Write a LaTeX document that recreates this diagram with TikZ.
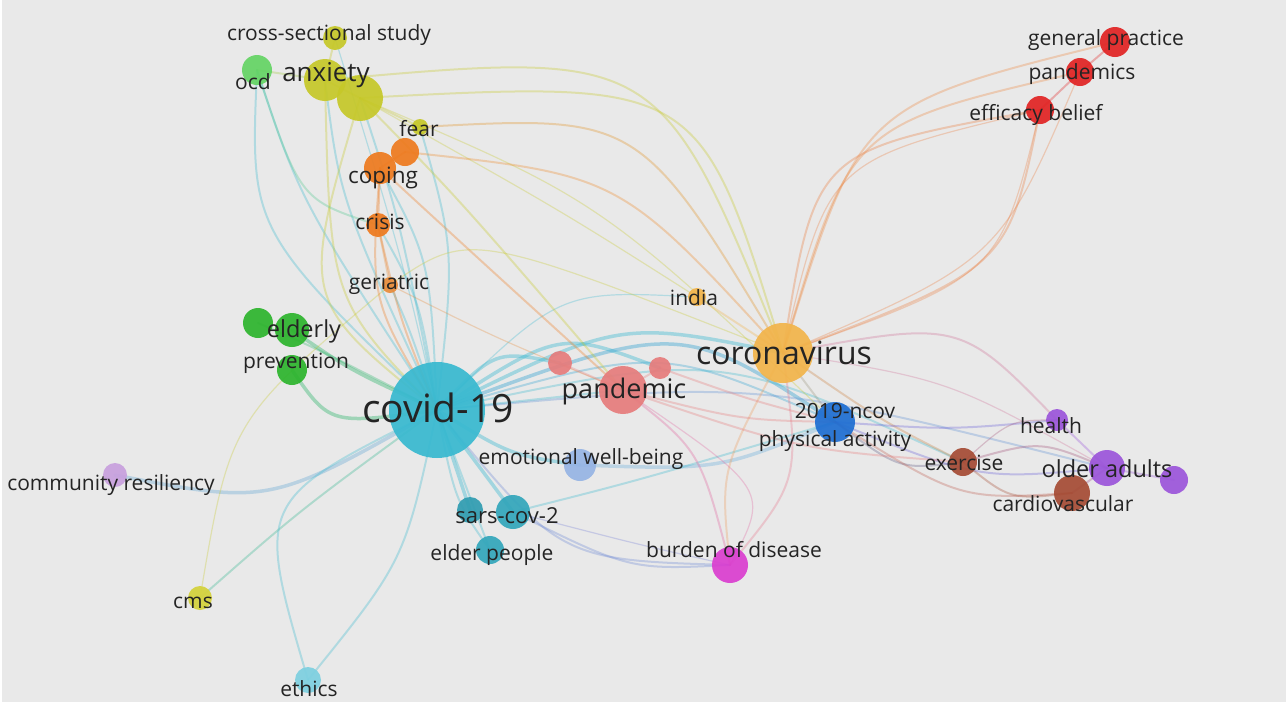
\documentclass[tikz,border=0pt]{standalone}
\usepackage{fontspec}
\setmainfont{Open Sans}
\definecolor{bgc}{RGB}{233,233,233}
\definecolor{labc}{RGB}{36,36,36}
\definecolor{cyanc}{RGB}{56,185,208}
\definecolor{orc}{RGB}{242,180,74}
\definecolor{pinkc}{RGB}{230,124,124}
\definecolor{anxc}{RGB}{198,200,40}
\definecolor{ocdc}{RGB}{100,212,100}
\definecolor{copc}{RGB}{238,122,30}
\definecolor{gerc}{RGB}{232,140,58}
\definecolor{eldc}{RGB}{45,180,45}
\definecolor{redc}{RGB}{225,35,35}
\definecolor{bluec}{RGB}{30,110,210}
\definecolor{purc}{RGB}{155,85,218}
\definecolor{brc}{RGB}{165,75,52}
\definecolor{emoc}{RGB}{150,180,228}
\definecolor{magc}{RGB}{218,62,208}
\definecolor{comc}{RGB}{200,160,222}
\definecolor{cmsc}{RGB}{212,210,58}
\definecolor{ethc}{RGB}{125,208,224}
\begin{document}
\begin{tikzpicture}[x=1pt,y=-1pt,
  kw/.style={circle, inner sep=0pt, minimum size=#1, fill opacity=0.92},
  lab/.style={text=labc, inner sep=0pt, anchor=center, font=\fontsize{21}{21}\selectfont},
  ed/.style={line width=2pt, draw opacity=0.32, line cap=round},
  edt/.style={line width=1.2pt, draw opacity=0.3, line cap=round},
  edk/.style={line width=3.5pt, draw opacity=0.4, line cap=round}]
\useasboundingbox (0,0) rectangle (1286,705);
\fill[white] (0,0) rectangle (1286,705);
\fill[bgc] (2,0) rectangle (1286,702);
% centres
\coordinate (cov) at (437,410);
\coordinate (cor) at (783,353);
\coordinate (pan) at (623,390);
\coordinate (pa) at (560,363);
\coordinate (pb) at (660,368);
\coordinate (anx) at (360,98);
\coordinate (anx2) at (325,80);
\coordinate (cross) at (335,38);
\coordinate (ocd) at (257,70);
\coordinate (fear) at (420,127);
\coordinate (cop1) at (405,152);
\coordinate (cop2) at (380,168);
\coordinate (cri) at (378,225);
\coordinate (ger) at (390,285);
\coordinate (eld1) at (258,323);
\coordinate (eld2) at (292,330);
\coordinate (prev) at (292,370);
\coordinate (ind) at (697,297);
\coordinate (gp) at (1115,42);
\coordinate (pds) at (1080,72);
\coordinate (eff) at (1040,110);
\coordinate (ncov) at (835,422);
\coordinate (hea) at (1057,420);
\coordinate (old1) at (1107,468);
\coordinate (old2) at (1174,480);
\coordinate (exe) at (963,462);
\coordinate (car) at (1072,493);
\coordinate (emo) at (580,465);
\coordinate (sar1) at (470,510);
\coordinate (sar2) at (513,512);
\coordinate (eldp) at (490,550);
\coordinate (bur) at (730,565);
\coordinate (com) at (115,475);
\coordinate (cms) at (200,598);
\coordinate (eth) at (308,680);
% edges from covid-19
\draw[ed,cyanc] (cov) .. controls (250,230) .. (ocd);
\draw[ed,cyanc] (cov) .. controls (300,200) .. (ocd);
\draw[ed,cyanc] (cov) .. controls (400,220) .. (anx);
\draw[ed,cyanc] (cov) .. controls (340,200) .. (anx2);
\draw[ed,cyanc] (cov) .. controls (430,260) .. (cop2);
\draw[ed,cyanc] (cov) .. controls (455,250) .. (fear);
\draw[ed,cyanc] (cov) .. controls (420,300) .. (cri);
\draw[ed,cyanc] (cov) .. controls (410,330) .. (ger);
\draw[edk,eldc!60!cyanc] (cov) .. controls (350,370) .. (eld2);
\draw[ed,eldc!60!cyanc] (cov) .. controls (320,350) .. (eld1);
\draw[edk,eldc!60!cyanc] (cov) .. controls (330,425) .. (prev);
\draw[edk,cyanc!60!comc] (cov) .. controls (270,505) .. (com);
\draw[ed,eldc!40!cyanc] (cov) .. controls (300,510) .. (cms);
\draw[edt,anxc] (ger) .. controls (230,420) .. (cms);
\draw[ed,cyanc] (cov) .. controls (255,500) .. (eth);
\draw[ed,cyanc] (cov) .. controls (405,560) .. (eth);
\draw[edk,cyanc] (cov) -- (sar1);
\draw[edk,cyanc] (cov) -- (sar2);
\draw[ed,cyanc] (cov) -- (eldp);
\draw[ed,cyanc] (cov) .. controls (455,500) .. (eldp);
\draw[edk,cyanc] (cov) .. controls (510,455) .. (emo);
\draw[edk,cyanc] (cov) .. controls (495,350) .. (pa);
\draw[edk,cyanc] (cov) .. controls (560,330) .. (pb);
\draw[edk,cyanc] (cov) .. controls (620,320) .. (cor);
\draw[edk,cyanc!70!bluec] (cov) .. controls (680,320) .. (ncov);
\draw[ed,cyanc!70!bluec] (cov) .. controls (660,345) .. (ncov);
\draw[ed,cyanc] (cov) .. controls (720,350) .. (exe);
\draw[ed,cyanc!60!purc] (cov) .. controls (760,380) .. (old1);
\draw[ed,cyanc] (cov) .. controls (530,400) .. (pan);
\draw[edt,cyanc] (cov) .. controls (560,290) .. (ind);
\draw[ed,cyanc!50!purc] (cov) .. controls (560,560) .. (bur);
\draw[ed,purc!50!cyanc] (sar2) .. controls (630,570) .. (bur);
\draw[edt,purc!60!cyanc] (sar2) .. controls (640,545) .. (bur);
\draw[edk,emoc!70!cyanc] (emo) .. controls (720,470) .. (ncov);
\draw[ed,cyanc] (sar2) .. controls (640,480) .. (ncov);
\draw[edt,cyanc] (cross) .. controls (400,250) .. (cov);
% anxiety cluster
\draw[ed,anxc] (anx) .. controls (700,80) .. (cor);
\draw[ed,anxc] (anx2) .. controls (660,50) .. (cor);
\draw[ed,anxc] (anx) .. controls (300,300) .. (cov);
\draw[ed,anxc] (anx2) .. controls (330,300) .. (cov);
\draw[ed,anxc] (anx) .. controls (460,200) .. (pan);
\draw[edt,anxc] (anx) .. controls (600,200) .. (ncov);
\draw[edt,anxc] (anx) .. controls (560,210) .. (ind);
\draw[ed,anxc] (cross) -- (anx2);
\draw[ed,anxc] (anx2) -- (anx);
\draw[ed,anxc] (anx) -- (fear);
\draw[ed,anxc!60!ocdc] (ocd) -- (anx2);
\draw[ed,ocdc!60!cyanc] (ocd) .. controls (300,200) .. (cri);
\draw[ed,copc!70!anxc] (fear) .. controls (640,115) .. (cor);
\draw[ed,copc!70!orc] (cop1) .. controls (620,175) .. (cor);
\draw[ed,copc] (cop2) .. controls (480,260) .. (pan);
\draw[ed,copc] (cop2) .. controls (370,300) .. (cov);
\draw[ed,copc] (cri) .. controls (400,320) .. (cov);
\draw[ed,copc] (cop2) -- (cri);
\draw[ed,copc] (cop1) -- (cop2);
\draw[ed,gerc] (cri) -- (ger);
\draw[edt,gerc] (ger) .. controls (500,340) .. (pan);
\draw[edt,anxc] (ger) .. controls (470,230) .. (cor);
% coronavirus
\draw[ed,orc!70!redc] (cor) .. controls (860,105) .. (gp);
\draw[ed,orc!70!redc] (cor) .. controls (850,125) .. (pds);
\draw[ed,orc!60!redc] (cor) .. controls (815,150) .. (eff);
\draw[edt,orc!60!redc] (cor) .. controls (828,160) .. (eff);
\draw[ed,redc!40!orc] (eff) .. controls (1008,268) .. (cor);
\draw[edt,redc!40!orc] (eff) .. controls (1000,275) .. (cor);
\draw[edt,redc!40!orc] (pds) .. controls (1000,260) .. (cor);
\draw[ed,redc] (gp) -- (pds);
\draw[ed,redc] (pds) -- (eff);
\draw[ed,orc] (cor) -- (ind);
\draw[ed,orc!60!pinkc] (cor) .. controls (720,470) .. (bur);
\draw[ed,orc!50!magc] (cor) .. controls (800,480) .. (bur);
\draw[ed,pinkc!60!magc] (pan) .. controls (700,450) .. (bur);
\draw[edt,pinkc!60!magc] (pan) .. controls (770,490) .. (bur);
\draw[ed,orc!60!bluec] (cor) -- (ncov);
\draw[ed,pinkc!70!purc] (cor) .. controls (960,320) .. (hea);
\draw[edt,pinkc!70!purc] (cor) .. controls (950,380) .. (old1);
\draw[ed,orc!50!brc] (cor) .. controls (880,420) .. (exe);
\draw[ed,bluec!50!brc] (ncov) .. controls (900,470) .. (exe);
\draw[ed,bluec!40!purc] (ncov) .. controls (950,430) .. (hea);
\draw[ed,bluec!40!purc] (ncov) .. controls (980,480) .. (old1);
\draw[ed,brc!60!pinkc] (ncov) .. controls (960,500) .. (car);
\draw[ed,brc] (exe) .. controls (1010,500) .. (car);
\draw[ed,brc!60!purc] (exe) .. controls (1040,440) .. (old1);
\draw[edt,brc!60!purc] (exe) .. controls (1010,420) .. (hea);
\draw[ed,purc] (hea) -- (old1);
\draw[ed,purc] (old1) -- (old2);
\draw[ed,brc!50!purc] (car) -- (old1);
\draw[ed,pinkc] (pan) .. controls (740,420) .. (ncov);
\draw[ed,pinkc] (pan) .. controls (800,450) .. (exe);
\draw[ed,pinkc] (pa) -- (pan);
\draw[ed,pinkc] (pb) -- (pan);
\draw[ed,pinkc] (pb) .. controls (750,400) .. (ncov);
% nodes
\node[kw=96,fill=cyanc] (n-cov) at (cov) {};
\node[kw=60,fill=orc] (n-cor) at (cor) {};
\node[kw=48,fill=pinkc] (n-pan) at (pan) {};
\node[kw=24,fill=pinkc] (n-pa) at (pa) {};
\node[kw=22,fill=pinkc] (n-pb) at (pb) {};
\node[kw=24,fill=anxc] (n-cross) at (cross) {};
\node[kw=46,fill=anxc] (n-anx) at (anx) {};
\node[kw=42,fill=anxc] (n-anx2) at (anx2) {};
\node[kw=30,fill=ocdc] (n-ocd) at (ocd) {};
\node[kw=16,fill=anxc] (n-fear) at (fear) {};
\node[kw=28,fill=copc] (n-cop1) at (cop1) {};
\node[kw=32,fill=copc] (n-cop2) at (cop2) {};
\node[kw=24,fill=copc] (n-cri) at (cri) {};
\node[kw=16,fill=gerc] (n-ger) at (ger) {};
\node[kw=30,fill=eldc] (n-eld1) at (eld1) {};
\node[kw=34,fill=eldc] (n-eld2) at (eld2) {};
\node[kw=30,fill=eldc] (n-prev) at (prev) {};
\node[kw=18,fill=orc] (n-ind) at (ind) {};
\node[kw=30,fill=redc] (n-gp) at (gp) {};
\node[kw=28,fill=redc] (n-pds) at (pds) {};
\node[kw=28,fill=redc] (n-eff) at (eff) {};
\node[kw=40,fill=bluec] (n-ncov) at (ncov) {};
\node[kw=22,fill=purc] (n-hea) at (hea) {};
\node[kw=36,fill=purc] (n-old1) at (old1) {};
\node[kw=28,fill=purc] (n-old2) at (old2) {};
\node[kw=28,fill=brc] (n-exe) at (exe) {};
\node[kw=36,fill=brc] (n-car) at (car) {};
\node[kw=32,fill=emoc] (n-emo) at (emo) {};
\node[kw=26,fill=cyanc!85!black] (n-sar1) at (sar1) {};
\node[kw=34,fill=cyanc!90!black] (n-sar2) at (sar2) {};
\node[kw=28,fill=cyanc!90!black] (n-eldp) at (eldp) {};
\node[kw=36,fill=magc] (n-bur) at (bur) {};
\node[kw=24,fill=comc] (n-com) at (com) {};
\node[kw=24,fill=cmsc] (n-cms) at (cms) {};
\node[kw=26,fill=ethc] (n-eth) at (eth) {};
% labels
\node[lab,font=\fontsize{39}{39}\selectfont] (l-cov) at (438,408) {covid-19};
\node[lab,font=\fontsize{32}{32}\selectfont] (l-cor) at (784,353) {coronavirus};
\node[lab,font=\fontsize{27}{27}\selectfont] (l-pan) at (624,391) {pandemic};
\node[lab,font=\fontsize{26}{26}\selectfont] (l-anx) at (326,75) {anxiety};
\node[lab] (l-cross) at (329,35) {cross-sectional study};
\node[lab] (l-ocd) at (253,82) {ocd};
\node[lab] (l-fear) at (419,129) {fear};
\node[lab,font=\fontsize{22.5}{22.5}\selectfont] (l-cop) at (383,178) {coping};
\node[lab] (l-cri) at (380,222) {crisis};
\node[lab] (l-ger) at (389,284) {geriatric};
\node[lab,font=\fontsize{23.5}{23.5}\selectfont] (l-eld) at (304,331) {elderly};
\node[lab] (l-prev) at (296,363) {prevention};
\node[lab] (l-ind) at (694,298) {india};
\node[lab] (l-gp) at (1106,40) {general practice};
\node[lab] (l-pds) at (1082,74) {pandemics};
\node[lab] (l-eff) at (1036,115) {efficacy belief};
\node[lab] (l-ncov) at (845,411) {2019-ncov};
\node[lab] (l-pa) at (835,441) {physical activity};
\node[lab] (l-hea) at (1051,426) {health};
\node[lab,font=\fontsize{23.5}{23.5}\selectfont] (l-old) at (1107,469) {older adults};
\node[lab] (l-exe) at (964,463) {exercise};
\node[lab] (l-car) at (1063,504) {cardiovascular};
\node[lab] (l-emo) at (581,459) {emotional well-being};
\node[lab,font=\fontsize{22}{22}\selectfont] (l-sar) at (507,516) {sars-cov-2};
\node[lab] (l-eldp) at (492,555) {elder people};
\node[lab] (l-bur) at (734,550) {burden of disease};
\node[lab] (l-com) at (111,485) {community resiliency};
\node[lab] (l-cms) at (193,603) {cms};
\node[lab] (l-eth) at (309,689) {ethics};
\end{tikzpicture}
\end{document}
